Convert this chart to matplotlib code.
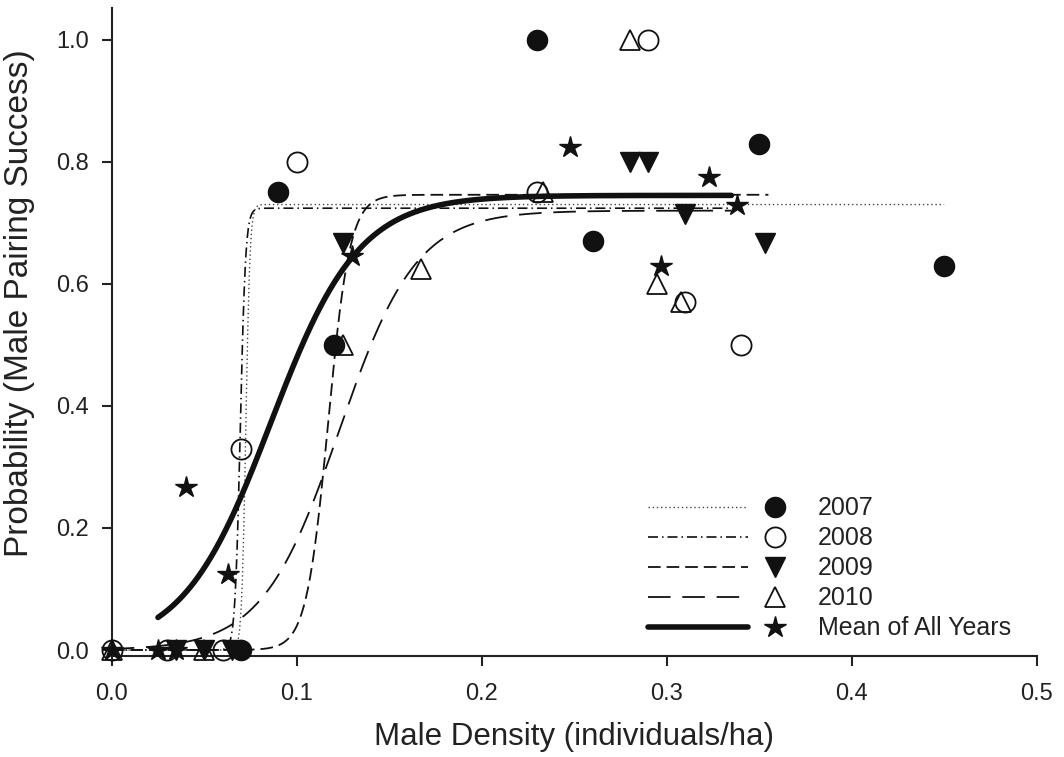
import numpy as np
import matplotlib
matplotlib.use('Agg')
import matplotlib.pyplot as plt
from matplotlib.lines import Line2D
from matplotlib.legend_handler import HandlerBase

# ---------------------------------------------------------------------------
# observed pairing success by male density, one list pair per year
# ---------------------------------------------------------------------------
x_2007 = [0.07, 0.09, 0.12, 0.23, 0.26, 0.35, 0.45]
y_2007 = [0.0, 0.75, 0.50, 1.00, 0.67, 0.83, 0.63]

x_2008 = [0.0, 0.03, 0.06, 0.07, 0.10, 0.23, 0.29, 0.31, 0.34]
y_2008 = [0.0, 0.0, 0.0, 0.33, 0.80, 0.75, 1.00, 0.57, 0.50]

x_2009 = [0.035, 0.05, 0.065, 0.125, 0.28, 0.29, 0.31, 0.353]
y_2009 = [0.0, 0.0, 0.0, 0.667, 0.80, 0.80, 0.714, 0.667]

x_2010 = [0.0, 0.05, 0.125, 0.167, 0.233, 0.28, 0.295, 0.308]
y_2010 = [0.0, 0.0, 0.50, 0.625, 0.75, 1.00, 0.60, 0.571]

x_mean = [0.0, 0.025, 0.035, 0.04, 0.063, 0.13, 0.248, 0.297, 0.323, 0.338]
y_mean = [0.0, 0.0, 0.0, 0.267, 0.125, 0.645, 0.825, 0.63, 0.775, 0.73]

# fitted logistic curves: (asymptote, midpoint, slope, x start, x end)
fit_2007 = (0.730, 0.0725, 900, 0.0, 0.45)
fit_2008 = (0.724, 0.0695, 700, 0.0, 0.335)
fit_2009 = (0.746, 0.117, 170, 0.0, 0.355)
fit_2010 = (0.720, 0.123, 48, 0.0, 0.335)
fit_mean = (0.745, 0.086, 42, 0.025, 0.335)

years = ['2007', '2008', '2009', '2010', 'Mean of All Years']

TXT = '#222222'
plt.rcParams['font.family'] = ['Liberation Sans', 'DejaVu Sans']


def logistic(fit):
    a, x0, k, lo, hi = fit
    xs = np.linspace(lo, hi, 600)
    return xs, a / (1.0 + np.exp(-k * (xs - x0)))


class LineThenMarker(HandlerBase):
    # legend entry: line sample on the left, symbol just right of it
    def create_artists(self, legend, orig_handle, xdescent, ydescent,
                       width, height, fontsize, trans):
        line, mark = orig_handle
        y = height / 2.0 - ydescent
        x0 = -xdescent
        seg = Line2D([x0, x0 + width * 0.73], [y, y])
        seg.update_from(line)
        seg.set_marker('')
        sym = Line2D([x0 + width - 0.42 * fontsize], [y])
        sym.update_from(mark)
        sym.set_linestyle('none')
        seg.set_transform(trans)
        sym.set_transform(trans)
        return [seg, sym]


fig = plt.figure(figsize=(10.64, 7.57), dpi=100)
ax = fig.add_axes([0.105, 0.1334, 0.8693, 0.856])

line_styles = [
    dict(ls=(0, (1, 2)), lw=1.0, color='#444444'),
    dict(ls=(0, (6, 2.4, 0.9, 2.4)), lw=1.2, color='#111111'),
    dict(ls=(0, (7, 3.3)), lw=1.3, color='#111111'),
    dict(ls=(0, (12.5, 6.5)), lw=1.3, color='#111111'),
    dict(ls='-', lw=4.0, color='#111111'),
]
fits = [fit_2007, fit_2008, fit_2009, fit_2010, fit_mean]

line_handles = []
for fit, st in zip(fits, line_styles):
    xs, ys = logistic(fit)
    h, = ax.plot(xs, ys, linestyle=st['ls'], lw=st['lw'], color=st['color'],
                 solid_capstyle='round', zorder=2)
    line_handles.append(h)

mk = dict(linestyle='none', clip_on=False, zorder=3)
mark_handles = []
h, = ax.plot(x_2007, y_2007, marker='o', ms=14.5, mfc='#111111', mec='#111111', **mk)
mark_handles.append(h)
h, = ax.plot(x_2008, y_2008, marker='o', ms=14.5, mfc='none', mec='#111111', mew=1.3, **mk)
mark_handles.append(h)
h, = ax.plot(x_2009, y_2009, marker='v', ms=14.5, mfc='#111111', mec='#111111', **mk)
mark_handles.append(h)
h, = ax.plot(x_2010, y_2010, marker='^', ms=14.5, mfc='none', mec='#111111', mew=1.3, **mk)
mark_handles.append(h)
h, = ax.plot(x_mean, y_mean, marker='*', ms=16, mfc='#111111', mec='#111111', **mk)
mark_handles.append(h)

ax.set_xlim(0, 0.5)
ax.set_ylim(-0.0098, 1.052)
ax.set_xticks(np.arange(0, 0.51, 0.1))
ax.set_yticks(np.arange(0, 1.01, 0.2))
ax.xaxis.set_major_formatter(matplotlib.ticker.FormatStrFormatter('%.1f'))
ax.yaxis.set_major_formatter(matplotlib.ticker.FormatStrFormatter('%.1f'))

for side in ['top', 'right']:
    ax.spines[side].set_visible(False)
for side in ['left', 'bottom']:
    ax.spines[side].set_linewidth(1.5)
    ax.spines[side].set_color('#222222')

ax.tick_params(axis='both', direction='out', length=7.5, width=1.5,
               labelsize=17, colors='#222222', labelcolor=TXT)
ax.tick_params(axis='x', pad=12)
ax.tick_params(axis='y', pad=9)

ax.set_xlabel('Male Density (individuals/ha)', fontsize=22.5, color=TXT, labelpad=12)
ax.set_ylabel('Probability (Male Pairing Success)', fontsize=24, color=TXT)
ax.yaxis.set_label_coords(-0.083, 0.545)

leg = ax.legend(list(zip(line_handles, mark_handles)), years,
                handler_map={tuple: LineThenMarker()},
                loc='lower left', bbox_to_anchor=(0.5795, 0.024),
                frameon=False, fontsize=18, handlelength=5.5,
                handletextpad=1.3, labelspacing=0.24, borderpad=0,
                borderaxespad=0)
for t in leg.get_texts():
    t.set_color(TXT)

fig.savefig('out.png', dpi=100)
